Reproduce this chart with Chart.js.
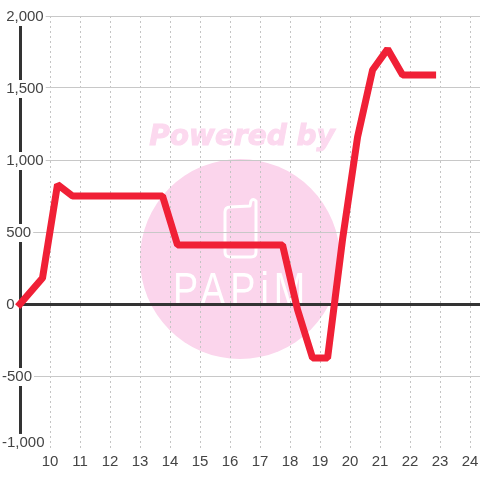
<!DOCTYPE html>
<html>

<head>
    <title>Chart</title>
    <meta charset="utf-8" />
    <style>
        html, body { margin: 0; padding: 0; background: #fff; }
        canvas { display: block; }
    </style>
</head>

<body>
    <canvas id="myChart" width="480" height="480"></canvas>

    <script src="https://cdn.jsdelivr.net/npm/chart.js"></script>
    <script type="text/javascript">
        const hours = [9, 9.75, 10.25, 10.75, 11.25, 11.75, 12.25, 12.75, 13.25, 13.75, 14.25, 14.75, 15.25, 15.75, 16.25, 16.75, 17.25, 17.75, 18.25, 18.75, 19.25, 19.75, 20.25, 20.75, 21.25, 21.75, 22.25, 22.75];
        const values = [0, 180, 830, 750, 750, 750, 750, 750, 750, 750, 410, 410, 410, 410, 410, 410, 410, 410, -40, -375, -375, 450, 1160, 1625, 1770, 1590, 1590, 1590];
        const yLabelTicks = [2000, 1500, 1000, 500, 0, -500];

        // the bottom label sits a little above its gridline in the original
        const bottomLabelTick = -958;
        const bottomLabel = '-1,000';

        const LABEL_FONT = 'Liberation Sans, Arial, sans-serif';

        // logo sits behind the grid
        const watermark = {
            id: 'watermark',
            beforeDraw(chart) {
                const ctx = chart.ctx;
                ctx.save();
                ctx.fillStyle = '#fbd5ec';
                ctx.beginPath();
                ctx.arc(240, 259, 100, 0, Math.PI * 2);
                ctx.fill();

                ctx.fillStyle = '#fcd9ef';
                ctx.strokeStyle = '#fcd9ef';
                ctx.lineWidth = 1;
                ctx.font = 'italic bold 28px "DejaVu Sans"';
                ctx.textAlign = 'center';
                ctx.textBaseline = 'alphabetic';
                ctx.fillText('Powered by', 242, 145);
                ctx.strokeText('Powered by', 242, 145);

                // phone icon
                ctx.strokeStyle = '#fff';
                ctx.lineWidth = 3;
                ctx.lineJoin = 'round';
                ctx.beginPath();
                ctx.moveTo(250, 206);
                ctx.lineTo(230, 207);
                ctx.quadraticCurveTo(225, 207, 225, 212);
                ctx.lineTo(225, 252);
                ctx.quadraticCurveTo(225, 257, 230, 257);
                ctx.lineTo(251, 257);
                ctx.quadraticCurveTo(256, 257, 256, 252);
                ctx.lineTo(256, 201);
                ctx.quadraticCurveTo(253, 198, 251, 201);
                ctx.closePath();
                ctx.stroke();

                ctx.fillStyle = '#fff';
                ctx.font = '46px "Liberation Sans"';
                ctx.letterSpacing = '6px';
                ctx.textAlign = 'left';
                ctx.translate(173, 305);
                ctx.scale(0.82, 1);
                ctx.fillText('PAPiM', 0, 0);
                ctx.restore();
            }
        };

        new Chart(document.getElementById('myChart'), {
            type: 'line',
            data: {
                labels: hours,
                datasets: [{
                    data: values,
                    borderColor: '#f02036',
                    borderWidth: 7,
                    borderJoinStyle: 'bevel',
                    borderCapStyle: 'square',
                    pointRadius: 0,
                    tension: 0,
                    clip: false
                }]
            },
            options: {
                responsive: false,
                animation: false,
                layout: { padding: { top: 16 } },
                plugins: { legend: { display: false }, tooltip: { enabled: false } },
                scales: {
                    x: {
                        type: 'linear',
                        min: 9,
                        max: 24.33,
                        afterFit: (scale) => {
                            scale.height = 32;
                            scale.paddingLeft = 0;
                            scale.paddingRight = 0;
                        },
                        border: { display: false, dash: [2, 3] },
                        grid: {
                            color: '#c4c4c4',
                            lineWidth: 1,
                            drawTicks: false
                        },
                        ticks: {
                            stepSize: 1,
                            includeBounds: false,
                            autoSkip: false,
                            maxRotation: 0,
                            padding: 5,
                            color: '#444',
                            font: { family: LABEL_FONT, size: 15 },
                            callback: (v) => (v === 9 ? null : String(v))
                        }
                    },
                    y: {
                        min: -1000,
                        max: 2000,
                        afterFit: (scale) => { scale.width = 20; },
                        afterBuildTicks: (scale) => {
                            scale.ticks.push({ value: bottomLabelTick });
                        },
                        border: { color: '#333', width: 3 },
                        grid: {
                            color: (c) => {
                                if (c.tick.value === bottomLabelTick) return 'transparent';
                                return c.tick.value === 0 ? '#333' : '#c8c8c8';
                            },
                            lineWidth: (c) => (c.tick.value === 0 ? 3 : 1),
                            drawTicks: false
                        },
                        ticks: {
                            stepSize: 250,
                            mirror: true,
                            padding: -18,
                            labelOffset: 1,
                            color: '#444',
                            showLabelBackdrop: true,
                            backdropColor: '#fff',
                            backdropPadding: { top: 0, bottom: 0, left: 0, right: 2 },
                            font: { family: LABEL_FONT, size: 15 },
                            callback: (v) => {
                                if (v === bottomLabelTick) return bottomLabel;
                                if (!yLabelTicks.includes(v)) return null;
                                const text = v.toLocaleString('en-US');
                                return v < 0 ? text : ' ' + text;
                            }
                        }
                    }
                }
            },
            plugins: [watermark]
        });
    </script>
</body>

</html>
